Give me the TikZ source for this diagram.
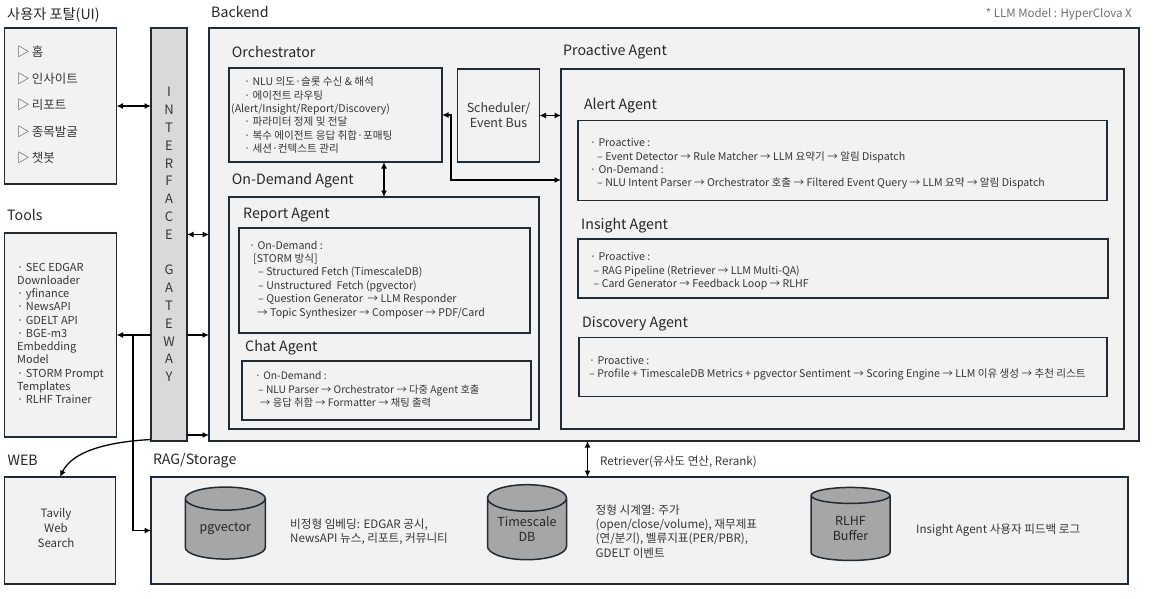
\documentclass[tikz,border=0pt]{standalone}
\usepackage{fontspec}
\setmainfont{Noto Sans CJK KR}
\usetikzlibrary{arrows.meta,shapes.geometric}
\definecolor{bord}{HTML}{1F2B36}
\definecolor{boxfill}{HTML}{F2F2F2}
\definecolor{gwfill}{HTML}{D9D9D9}
\definecolor{cylfill}{HTML}{A6A6A6}
\definecolor{lbl}{HTML}{262626}
\definecolor{txt}{HTML}{363636}
\definecolor{note}{HTML}{6E6E6E}
\newcommand\fst{\rule{0pt}{0.9em}}
\begin{document}
\begin{tikzpicture}[x=1pt,y=-1pt,
  box/.style={draw=bord, line width=1.5pt, fill=boxfill, inner sep=0pt, outer sep=0pt, anchor=north west},
  gwbox/.style={box, fill=gwfill},
  title/.style={anchor=west, inner sep=0pt, text=lbl, font=\fontsize{14.2}{17}\selectfont},
  sub/.style={anchor=west, inner sep=0pt, text=lbl, font=\fontsize{14.2}{17}\selectfont},
  body/.style={anchor=north west, inner sep=0pt, align=left, text=txt},
  cyl/.style={cylinder, shape border rotate=90, aspect=0.45, draw=bord, line width=1.5pt, fill=cylfill, inner sep=0pt, align=center, text=lbl, font=\fontsize{12.5}{15}\selectfont},
  arr/.style={-{Latex[length=6.5pt,width=6pt]}, line width=1.3pt},
  dbl/.style={{Latex[length=6.5pt,width=6pt]}-{Latex[length=6.5pt,width=6pt]}, line width=1.3pt}]
\useasboundingbox (0,0) rectangle (1156,598);

% ---- boxes
\node[box, minimum width=112pt, minimum height=156pt] (ui) at (4.5,28) {};
\node[box, minimum width=112pt, minimum height=204pt] (tools) at (4.5,233) {};
\node[box, minimum width=111pt, minimum height=107pt] (web) at (4.5,477) {};
\node[gwbox, minimum width=36pt, minimum height=413pt] (gw) at (151,28) {};
\node[box, minimum width=930pt, minimum height=413pt] (be) at (209,28) {};
\node[box, minimum width=213pt, minimum height=94pt] (orch) at (229,68) {};
\node[box, minimum width=82pt, minimum height=93pt] (sched) at (457.5,69) {};
\node[box, minimum width=310pt, minimum height=232pt] (od) at (229,197) {};
\node[box, minimum width=291pt, minimum height=105pt] (rep) at (239,228) {};
\node[box, minimum width=289pt, minimum height=59pt] (chat) at (242,361) {};
\node[box, minimum width=563pt, minimum height=360pt] (pro) at (561,69) {};
\node[box, minimum width=529pt, minimum height=80pt] (alert) at (578,120.5) {};
\node[box, minimum width=530pt, minimum height=59pt] (ins) at (578,239) {};
\node[box, minimum width=528pt, minimum height=59pt] (disc) at (579,337.5) {};
\node[box, minimum width=977pt, minimum height=107pt] (rag) at (151,477) {};

% ---- titles
\node[title] (tui) at (7,15) {사용자 포탈(UI)};
\node[title] (tbe) at (211,12.3) {Backend};
\node[title] (ttools) at (7,215) {Tools};
\node[title] (tweb) at (7.4,460.7) {WEB};
\node[title] (trag) at (152.8,460.7) {RAG/Storage};
\node[anchor=east, inner sep=0pt, text=note, font=\fontsize{11.5}{14}\selectfont] (llm) at (1132,14) {* LLM Model : HyperClova X};
\node[sub] (torch) at (231.7,51.7) {Orchestrator};
\node[sub] (tod) at (231.7,181) {On-Demand Agent};
\node[sub] (trep) at (243,215) {Report Agent};
\node[sub] (tchat) at (245,347.5) {Chat Agent};
\node[sub] (tpro) at (563,51.7) {Proactive Agent};
\node[sub] (talert) at (583.8,106) {Alert Agent};
\node[sub] (tins) at (581,225.7) {Insight Agent};
\node[sub] (tdisc) at (582,323.3) {Discovery Agent};

% ---- texts
\node[body, font=\fontsize{12.5}{26.6}\selectfont] (uitxt) at (17,45.1)
 {\fst▷\,홈\\▷\,인사이트\\▷\,리포트\\▷\,종목발굴\\▷\,챗봇};
\node[body, font=\fontsize{11}{13.27}\selectfont] (tooltxt) at (17,260.9)
 {\fst· SEC EDGAR\\Downloader\\· yfinance\\· NewsAPI\\· GDELT API\\· BGE-m3\\Embedding\\Model\\· STORM Prompt\\Templates\\· RLHF Trainer};
\node[align=center, inner sep=0pt, text=txt, font=\fontsize{13}{17.8}\selectfont] (gwtxt) at (gw.center)
 {I\\N\\T\\E\\R\\F\\A\\C\\E\\{}\\G\\A\\T\\E\\W\\A\\Y};
\node[body, font=\fontsize{10.6}{13.3}\selectfont] (orchtxt) at (231,76.1)
 {\fst\hspace*{13pt}· NLU 의도·슬롯 수신 \& 해석\\\hspace*{13pt}· 에이전트 라우팅\\(Alert/Insight/Report/Discovery)\\\hspace*{13pt}· 파라미터 정제 및 전달\\\hspace*{13pt}· 복수 에이전트 응답 취합·포매팅\\\hspace*{13pt}· 세션·컨텍스트 관리};
\node[align=center, inner sep=0pt, text=txt, font=\fontsize{12.5}{15}\selectfont] (schedtxt) at (sched.center) {Scheduler/\\Event Bus};
\node[body, font=\fontsize{10.6}{13.4}\selectfont] (reptxt) at (249,239.4)
 {\fst· On-Demand :\\\hspace*{4pt}[STORM 방식]\\\hspace*{9pt}– Structured Fetch (TimescaleDB)\\\hspace*{9pt}– Unstructured\ \ Fetch (pgvector)\\\hspace*{9pt}– Question Generator\ \ → LLM Responder\\\hspace*{8pt}→ Topic Synthesizer → Composer → PDF/Card};
\node[body, font=\fontsize{10.3}{13.5}\selectfont] (chattxt) at (255,370.4)
 {\fst· On-Demand :\\\hspace*{3pt}– NLU Parser → Orchestrator → 다중 Agent 호출\\\hspace*{5pt}→ 응답 취합 → Formatter → 채팅 출력};
\node[body, font=\fontsize{10.6}{13.2}\selectfont] (alerttxt) at (590,137.1)
 {\fst· Proactive :\\\hspace*{7pt}– Event Detector → Rule Matcher → LLM 요약기 → 알림 Dispatch\\· On-Demand :\\\hspace*{7pt}– NLU Intent Parser → Orchestrator 호출 → Filtered Event Query → LLM 요약 → 알림 Dispatch};
\node[body, font=\fontsize{10.6}{13.3}\selectfont] (instxt) at (590,251.1)
 {\fst· Proactive :\\\hspace*{3.5pt}– RAG Pipeline (Retriever → LLM Multi-QA)\\\hspace*{3.5pt}– Card Generator → Feedback Loop → RLHF};
\node[body, font=\fontsize{10.6}{12.6}\selectfont] (disctxt) at (589,355.1)
 {\fst· Proactive :\\– Profile + TimescaleDB Metrics + pgvector Sentiment → Scoring Engine → LLM 이유 생성 → 추천 리스트};
\node[align=center, inner sep=0pt, text=txt, font=\fontsize{11.5}{15}\selectfont] (webtxt) at (56,528) {Tavily\\Web\\Search};

% ---- storage
\node[cyl, minimum width=80pt, minimum height=72pt] (pgv) at (225.3,529.2) {pgvector};
\node[cyl, minimum width=79pt, minimum height=75pt] (tsdb) at (527,529.2) {Timescale\\DB};
\node[cyl, minimum width=79pt, minimum height=73pt] (rlhf) at (850.5,528.3) {RLHF\\Buffer};
\node[body, font=\fontsize{11.6}{14}\selectfont] (pgvtxt) at (290,518.2)
 {\fst 비정형 임베딩: EDGAR 공시,\\NewsAPI 뉴스, 리포트, 커뮤니티};
\node[body, font=\fontsize{11.6}{14.2}\selectfont] (tstxt) at (595.5,503.9)
 {\fst 정형 시계열: 주가\\(open/close/volume), 재무제표\\(연/분기), 벨류지표(PER/PBR),\\GDELT 이벤트};
\node[anchor=west, inner sep=0pt, text=txt, font=\fontsize{11.6}{14}\selectfont] (rltxt) at (916,530) {Insight Agent 사용자 피드백 로그};
\node[anchor=west, inner sep=0pt, text=txt, font=\fontsize{11.6}{14}\selectfont] (rettxt) at (600,461.5) {Retriever(유사도 연산, Rerank)};

% ---- connectors
\draw[dbl] (ui.east) -- (ui.east -| gw.west);
\draw[dbl] (gw.east) -- (gw.east -| be.west);
\draw[arr] (gw.west |- tools.east) -- (tools.east);
\draw[arr] (gw.east |- tools.east) -- (be.west |- tools.east);
\draw[arr] ([yshift=6pt]gw.south east) -- ([yshift=6pt]gw.south east -| be.west);
\coordinate (br) at (133,335);
\draw[arr] (br) |- (rag.west);
\draw[arr] ([yshift=1.5pt]gw.south west) .. controls (105,442) and (72,452) .. (web.north);
\draw[dbl] (orch.south -| od.north) -- (od.north);
\draw[dbl] (sched.east) -- (sched.east -| pro.west);
\coordinate (elb) at (451,180);
\draw[dbl] (orch.east) -| (elb) -- (elb -| pro.west);
\coordinate (rt) at (587.5,441);
\draw[dbl] (rt) -- (rt |- rag.north);
\end{tikzpicture}
\end{document}
